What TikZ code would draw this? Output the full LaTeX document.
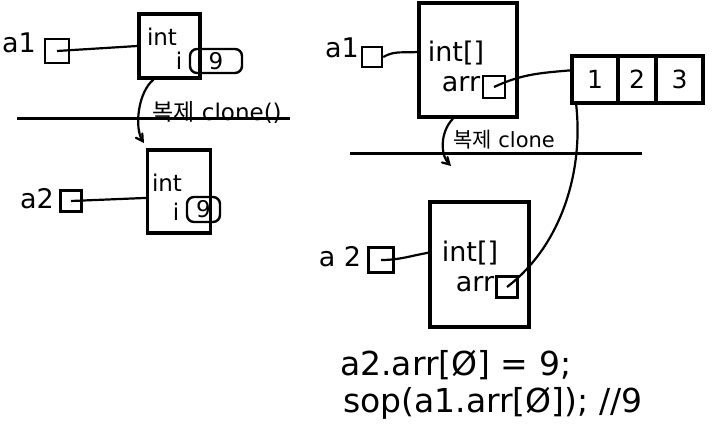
\documentclass[tikz,border=0pt]{standalone}
\usepackage{fontspec}
\setmainfont{DejaVu Sans}
\newfontfamily\kr{Noto Sans CJK KR}
\usetikzlibrary{arrows, positioning}

\begin{document}
\begin{tikzpicture}[x=1pt, y=-1pt, >=angle 60,
  obj/.style={draw, line width=3.2pt, inner sep=0pt},
  ref/.style={draw, line width=2.4pt, inner sep=0pt},
  val/.style={draw, line width=2.4pt, rounded corners=7pt, inner sep=0pt, font=\fontsize{23}{25}\selectfont},
  cell/.style={draw, line width=3.2pt, minimum height=47pt, inner sep=0pt, outer sep=0pt, font=\fontsize{25}{27}\selectfont},
  txt/.style={inner sep=0pt, font=\fontsize{23}{25}\selectfont},
  big/.style={inner sep=0pt, font=\fontsize{27}{29}\selectfont},
  code/.style={inner sep=0pt, anchor=west, font=\fontsize{33}{35}\selectfont},
  wire/.style={line width=2.2pt}]
  \useasboundingbox (0,0) rectangle (723,428);
  % left: object with an int field
  \node[obj, minimum width=61pt, minimum height=64pt] (objA) at (169.5,46) {};
  \node[txt] (typeA) at (162,37) {int};
  \node[txt] (fieldA) at (179,61) {i};
  \node[val, minimum width=52pt, minimum height=24pt] (valA) at (216,61) {9};
  \node[big] (nameA) at (19,43) {a1};
  \node[ref, minimum size=24pt] (refA) at (57,51) {};
  \draw[wire] (refA.center) -- (objA.west);
  \coordinate (cutA1) at (17,118); \coordinate (cutA2) at (290,118);
  \draw[line width=3pt] (cutA1) -- (cutA2);
  \node[txt] (cloneA) at (217,113) {{\kr 복제} clone()};
  \coordinate (tipA) at (144,143);
  \draw[wire, ->] ([xshift=-16pt]objA.south) .. controls (138,92) and (134,128) .. (tipA);
  \node[obj, minimum width=63pt, minimum height=83pt] (objB) at (179,191.5) {};
  \node[txt] (typeB) at (167,183) {int};
  \node[txt] (fieldB) at (176,212) {i};
  \node[val, minimum width=33pt, minimum height=25pt] (valB) at (203.5,209.5) {9};
  \node[big] (nameB) at (37,199) {a2};
  \node[ref, minimum size=21pt] (refB) at (71,201) {};
  \draw[wire] (refB.center) -- (objB.191);

  % right: object with an array field
  \node[obj, minimum width=98pt, minimum height=114pt] (objC) at (468,60) {};
  \node[big] (typeC) at (456,53) {int[]};
  \node[big] (arrC) at (461,84) {arr};
  \node[ref, minimum size=22pt] (ptrC) at (494,87) {};
  \node[big] (nameC) at (342,48) {a1};
  \node[ref, minimum size=20pt] (refC) at (372,57) {};
  \draw[wire] (refC.east) to[out=30, in=185] (objC.171);
  \node[cell, minimum width=46pt] (cell1) at (595,79.5) {1};
  \node[cell, minimum width=38pt, right=0pt of cell1] (cell2) {2};
  \node[cell, minimum width=47pt, right=0pt of cell2] (cell3) {3};
  \draw[wire] (ptrC.center) to[out=25, in=185] (cell1.158);
  \coordinate (cutB1) at (350,153); \coordinate (cutB2) at (642,153);
  \draw[line width=3pt] (cutB1) -- (cutB2);
  \node[txt, font=\fontsize{21}{23}\selectfont] (cloneB) at (504,140) {{\kr 복제} clone};
  \coordinate (tipC) at (451,166);
  \draw[wire, ->] ([xshift=-15pt]objC.south) .. controls (440,132) and (440,155) .. (tipC);
  \node[obj, minimum width=99pt, minimum height=125pt] (objD) at (479.5,264.5) {};
  \node[big] (typeD) at (470,253) {int[]};
  \node[big] (arrD) at (475,284) {arr};
  \node[ref, minimum size=21pt] (ptrD) at (507,287) {};
  \node[big] (nameD) at (340,257) {a 2};
  \node[ref, minimum size=25pt] (refD) at (381,260) {};
  \draw[wire] (refD.center) to[out=0, in=190] (objD.167);
  \draw[wire] (cell1.231) .. controls (584,170) and (562,245) .. (ptrD.center);

  \node[code] (codeA) at (340,365) {a2.arr[Ø] = 9;};
  \node[code] (codeB) at (343,403) {sop(a1.arr[Ø]); //9};
\end{tikzpicture}
\end{document}
